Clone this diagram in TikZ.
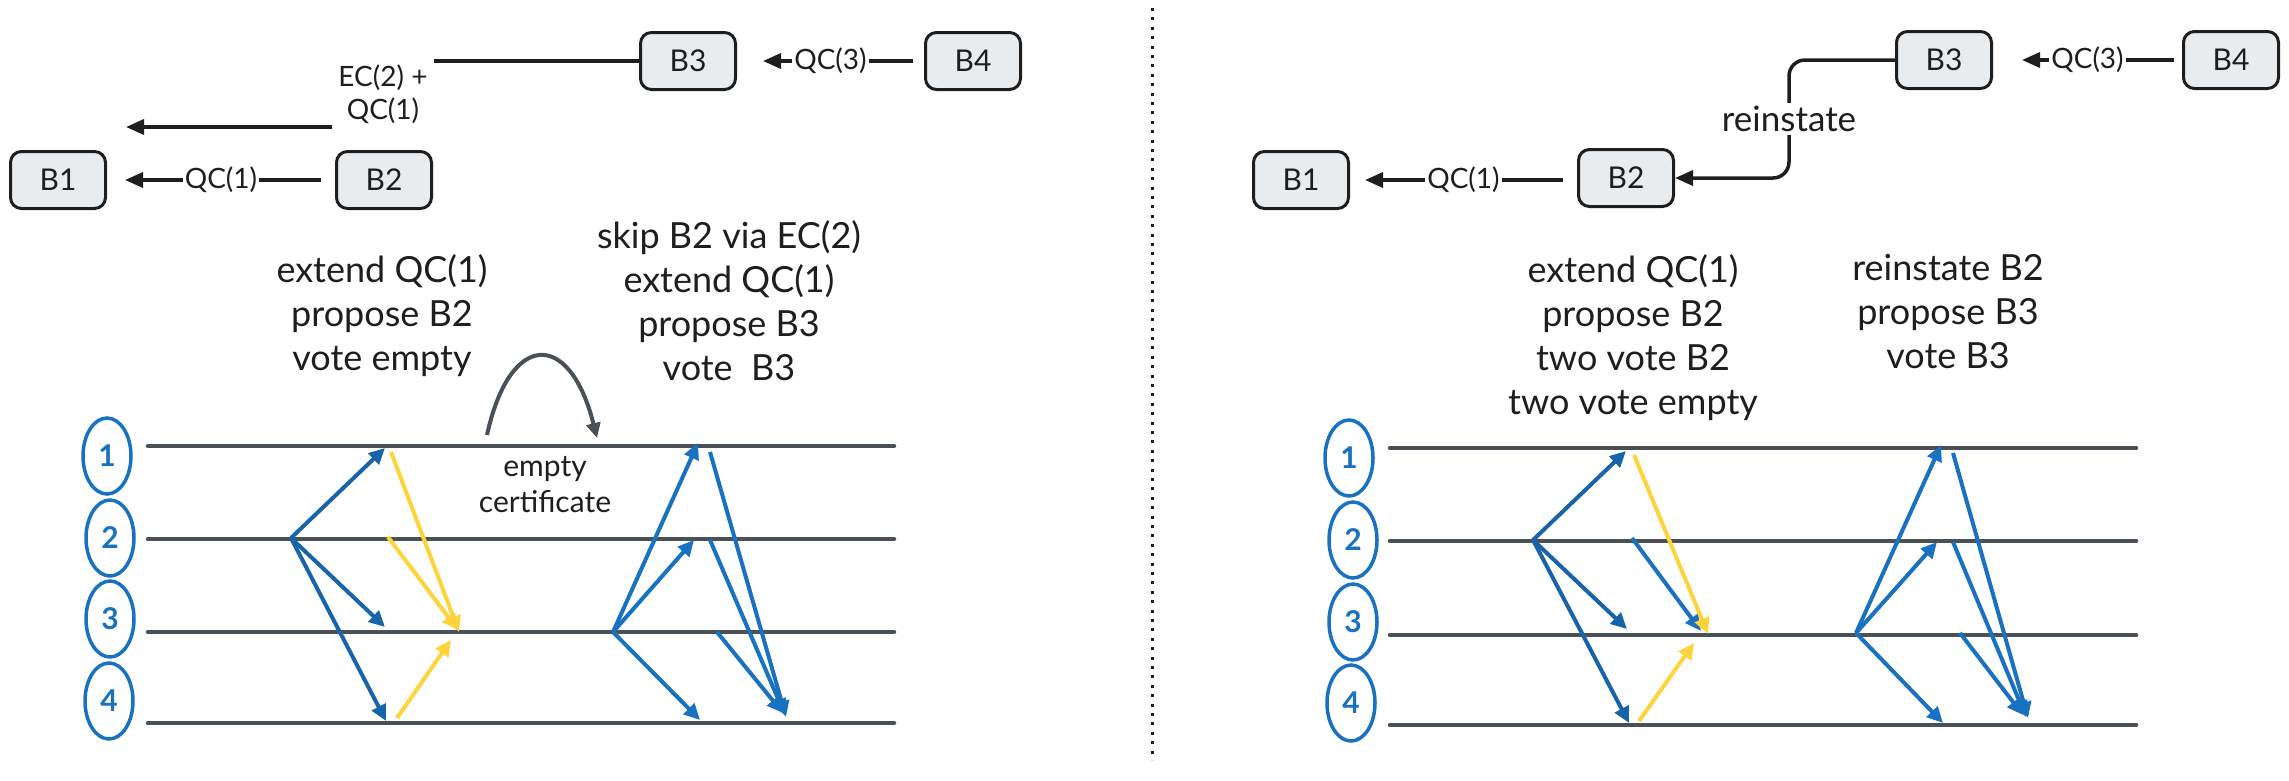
\documentclass[tikz,border=0pt]{standalone}
\usepackage{fontspec}
\setmainfont{Lato}
\usetikzlibrary{arrows.meta,shapes.geometric}
\definecolor{gline}{HTML}{495057}
\definecolor{dblue}{HTML}{1864AB}
\definecolor{lblue}{HTML}{1971C2}
\definecolor{yel}{HTML}{FFD43B}
\definecolor{bfill}{HTML}{E9ECEF}
\definecolor{bdraw}{HTML}{1E1E1E}
\definecolor{txt}{HTML}{1E1E1E}
\begin{document}
\begin{tikzpicture}[x=1pt,y=-1pt,
 blk/.style={draw=bdraw,fill=bfill,rounded corners=11pt,line width=3pt,minimum width=95pt,minimum height=57pt,inner sep=0pt,font=\fontsize{30}{34}\selectfont,text=txt},
 lbl/.style={fill=white,inner sep=2pt,font=\fontsize{28}{33}\selectfont,text=txt},
 biglbl/.style={fill=white,inner sep=3pt,font=\fontsize{35}{40}\selectfont,text=txt},
 big/.style={align=center,font=\fontsize{36}{44}\selectfont,text=txt,inner sep=0pt},
 barr/.style={draw=bdraw,line width=3.5pt,-{Triangle[length=18pt,width=15pt]}},
 tl/.style={draw=gline,line width=4.5pt,line cap=round},
 msg/.style={line width=4pt,-{Triangle[length=16pt,width=15pt]}},
 circ/.style={ellipse,draw=lblue,line width=3.5pt,minimum width=48pt,minimum height=76pt,inner sep=0pt,text=lblue,font=\fontsize{30}{32}\selectfont\bfseries},
]
\useasboundingbox (0,0) rectangle (2289,780);

% ---------- left top ----------
\node[blk] (B1) at (58,180) {B1};
\node[blk] (B2) at (384,180) {B2};
\node[blk] (B3) at (688,61) {B3};
\node[blk] (B4) at (973,61) {B4};
\draw[barr,shorten <=14pt,shorten >=18pt] (B2) -- node[lbl]{QC(1)} (B1);
\draw[barr,shorten <=11pt,shorten >=26pt] (B4) -- node[lbl]{QC(3)} (B3);
\coordinate (ec) at (383,61);
\coordinate (ee) at (126,127);
\draw[barr] (B3.west) -- (ec) -- node[lbl,align=center,minimum width=102pt,minimum height=76pt]{EC(2) +\\QC(1)} (ec |- ee) -- (ee);

% ---------- right top ----------
\node[blk] (rB1) at (1301,180) {B1};
\node[blk] (rB2) at (1626,178) {B2};
\node[blk] (rB3) at (1944,60) {B3};
\node[blk] (rB4) at (2231,60) {B4};
\draw[barr,shorten <=14pt,shorten >=15pt] (rB2.west |- rB1) -- node[lbl]{QC(1)} (rB1);
\draw[barr,shorten <=8pt,shorten >=29pt] (rB4) -- node[lbl]{QC(3)} (rB3);
\coordinate (rc) at (1789,60);
\draw[barr,rounded corners=16pt] (rB3.west) -- (rc) -- node[biglbl]{reinstate} (rc |- rB2.east) -- (rB2.east);

% ---------- separator ----------
\draw[bdraw,line width=3pt,dash pattern=on 3pt off 6.4pt] (1152,8) -- (1152,760);

% ---------- text blocks ----------
\node[big] (t1) at (382,316) {extend QC(1)\\propose B2\\vote empty};
\node[big] (t2) at (729,301) {skip B2 via EC(2)\\extend QC(1)\\propose B3\\vote\ \ B3};
\node[big] (t3) at (1633,338) {extend QC(1)\\propose B2\\two vote B2\\two vote empty};
\node[big] (t4) at (1948,312) {reinstate B2\\propose B3\\vote B3};
\node[align=center,font=\fontsize{30}{36}\selectfont,text=txt,inner sep=0pt] (ecert) at (545,485) {empty\\certificate};

% ---------- left timelines ----------
\node[circ] (c1) at (107,456) {1};
\node[circ] (c2) at (110,538) {2};
\node[circ] (c3) at (110,619) {3};
\node[circ] (c4) at (109,701) {4};
\draw[tl] (148,446) -- (894,446);
\draw[tl] (148,539) -- (894,539);
\draw[tl] (148,632) -- (894,632);
\draw[tl] (148,723) -- (894,723);

\draw[gline,line width=4pt,-{Triangle[length=15pt,width=14pt]}] (487,435) .. controls (510,330) and (570,330) .. (597,438);

\coordinate (P) at (291,538);
\draw[msg,dblue] (P) -- (385,448);
\draw[msg,dblue] (P) -- (385,627);
\draw[msg,dblue] (P) -- (386,721);
\draw[msg,yel] (391,452) -- (459,632);
\draw[msg,yel] (388,537) -- (458,630);
\draw[msg,yel] (397,718) -- (451,640);
\coordinate (Q) at (613,632);
\draw[msg,lblue] (Q) -- (698,443);
\draw[msg,lblue] (Q) -- (694,540);
\draw[msg,lblue] (Q) -- (700,720);
\draw[msg,lblue] (710,452) -- (786,717);
\draw[msg,lblue] (710,540) -- (785,715);
\draw[msg,lblue] (717,632) -- (783,713);

% ---------- right timelines ----------
\node[circ] (rc1) at (1349,458) {1};
\node[circ] (rc2) at (1353,540) {2};
\node[circ] (rc3) at (1353,622) {3};
\node[circ] (rc4) at (1351,703) {4};
\draw[tl] (1390,448) -- (2136,448);
\draw[tl] (1390,541) -- (2136,541);
\draw[tl] (1390,635) -- (2136,635);
\draw[tl] (1390,725) -- (2136,725);

\coordinate (R) at (1533,540);
\draw[msg,dblue] (R) -- (1626,451);
\draw[msg,dblue] (R) -- (1627,629);
\draw[msg,dblue] (R) -- (1629,723);
\draw[msg,lblue] (1632,538) -- (1701,631);
\draw[msg,yel] (1634,455) -- (1708,634);
\draw[msg,yel] (1639,721) -- (1694,643);
\coordinate (S) at (1856,633);
\draw[msg,lblue] (S) -- (1941,445);
\draw[msg,lblue] (S) -- (1937,542);
\draw[msg,lblue] (S) -- (1943,723);
\draw[msg,lblue] (1953,453) -- (2028,718);
\draw[msg,lblue] (1953,542) -- (2026,717);
\draw[msg,lblue] (1960,633) -- (2023,715);
\end{tikzpicture}
\end{document}
